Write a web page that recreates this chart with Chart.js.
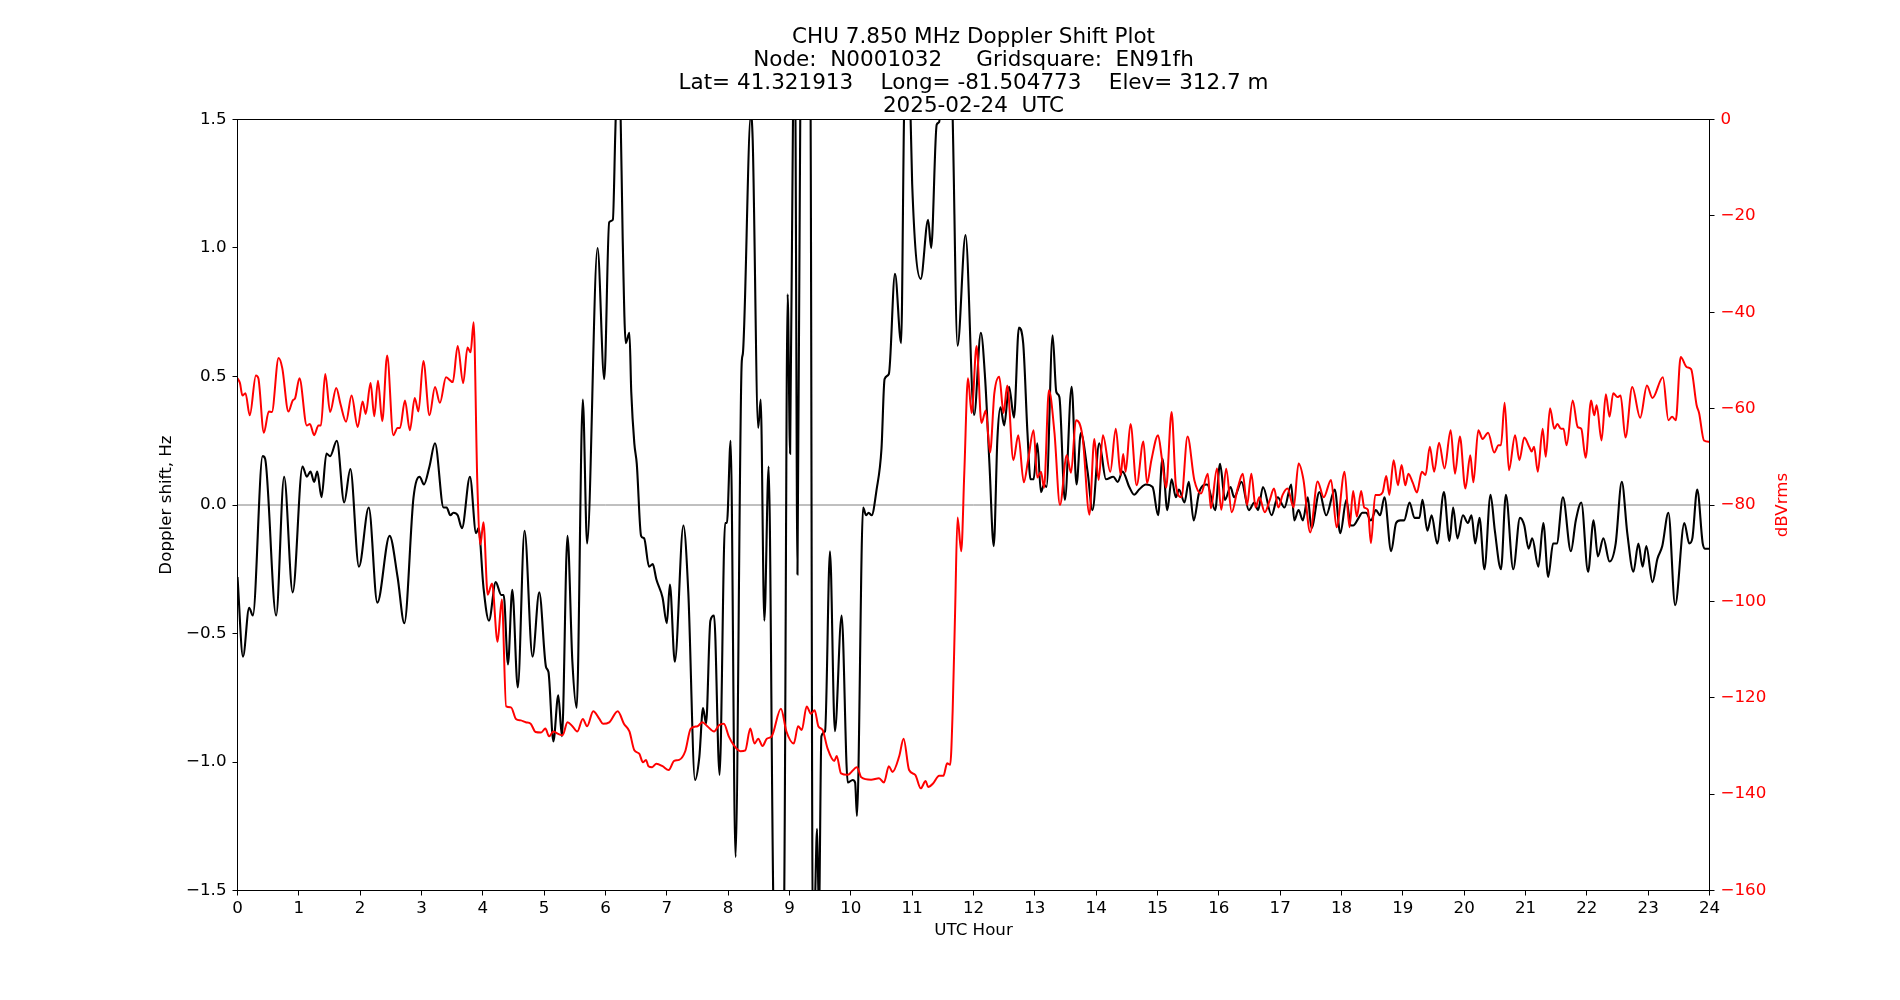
<!DOCTYPE html>
<html>
<head>
<meta charset="utf-8">
<script src="https://cdn.jsdelivr.net/npm/chart.js@4.4.1/dist/chart.umd.min.js"></script>
<style>html,body{margin:0;padding:0;background:#fff;}canvas{display:block;}</style>
</head>
<body>
<canvas id="c" width="1900" height="1000"></canvas>
<script>
const titleLines = [
  'CHU 7.850 MHz Doppler Shift Plot',
  'Node:  N0001032     Gridsquare:  EN91fh',
  'Lat= 41.321913    Long= -81.504773    Elev= 312.7 m',
  '2025-02-24  UTC'
];
const xLabel = 'UTC Hour';
const yLabelLeft = 'Doppler shift, Hz';
const yLabelRight = 'dBVrms';

const dopplerHours = [0.00,0.09,0.19,0.25,0.41,0.45,0.63,0.76,0.90,1.06,1.13,1.19,1.25,1.30,1.37,1.45,1.51,1.62,1.74,1.84,1.98,2.14,2.28,2.48,2.61,2.72,2.87,2.97,3.04,3.13,3.22,3.36,3.41,3.47,3.52,3.59,3.66,3.79,3.89,3.93,4.01,4.10,4.21,4.30,4.34,4.41,4.48,4.57,4.68,4.81,4.92,5.03,5.07,5.15,5.23,5.29,5.38,5.46,5.53,5.63,5.70,5.87,5.98,6.06,6.12,6.16,6.20,6.24,6.28,6.33,6.39,6.42,6.47,6.51,6.58,6.63,6.71,6.77,6.83,6.93,7.00,7.05,7.13,7.27,7.35,7.46,7.53,7.59,7.64,7.71,7.77,7.86,7.95,7.98,8.04,8.12,8.22,8.24,8.37,8.40,8.49,8.53,8.59,8.66,8.74,8.82,8.91,8.97,9.01,9.06,9.09,9.13,9.18,9.26,9.34,9.38,9.41,9.45,9.48,9.52,9.58,9.66,9.74,9.85,9.95,10.03,10.07,10.10,10.20,10.25,10.29,10.34,10.42,10.50,10.55,10.62,10.72,10.82,10.87,10.92,10.97,11.00,11.14,11.26,11.31,11.40,11.44,11.50,11.58,11.65,11.74,11.87,12.01,12.12,12.19,12.26,12.33,12.39,12.44,12.50,12.58,12.66,12.74,12.81,12.88,12.93,12.98,13.04,13.10,13.15,13.19,13.29,13.35,13.40,13.49,13.60,13.68,13.75,13.86,13.94,14.05,14.16,14.28,14.35,14.43,14.54,14.62,14.70,14.81,14.92,15.01,15.08,15.16,15.23,15.30,15.35,15.44,15.51,15.59,15.68,15.81,15.94,16.02,16.10,16.19,16.25,16.37,16.49,16.58,16.64,16.72,16.86,16.96,17.07,17.18,17.23,17.30,17.37,17.45,17.51,17.64,17.75,17.89,17.98,18.08,18.15,18.19,18.28,18.34,18.40,18.48,18.56,18.63,18.70,18.81,18.89,18.96,19.02,19.11,19.19,19.27,19.32,19.40,19.47,19.56,19.67,19.76,19.82,19.89,19.98,20.06,20.12,20.18,20.25,20.33,20.43,20.50,20.60,20.68,20.80,20.91,20.98,21.05,21.11,21.21,21.29,21.37,21.45,21.51,21.61,21.74,21.82,21.91,22.02,22.11,22.18,22.27,22.37,22.47,22.57,22.66,22.76,22.84,22.91,22.97,23.07,23.15,23.23,23.33,23.44,23.59,23.67,23.72,23.80,23.89,23.93,24.00];
const dopplerHz = [-0.28,-0.59,-0.40,-0.43,0.19,0.18,-0.43,0.11,-0.34,0.15,0.11,0.13,0.09,0.13,0.03,0.20,0.19,0.25,0.01,0.14,-0.24,-0.01,-0.38,-0.12,-0.28,-0.46,0.03,0.11,0.08,0.15,0.24,-0.01,-0.01,-0.04,-0.03,-0.04,-0.09,0.11,-0.11,-0.09,-0.32,-0.45,-0.30,-0.35,-0.35,-0.62,-0.33,-0.71,-0.10,-0.59,-0.34,-0.63,-0.65,-0.92,-0.74,-0.90,-0.12,-0.61,-0.79,0.41,-0.15,1.00,0.49,1.10,1.11,1.45,1.75,1.60,1.04,0.63,0.67,0.44,0.24,0.16,-0.12,-0.13,-0.24,-0.23,-0.29,-0.36,-0.46,-0.31,-0.61,-0.08,-0.34,-1.07,-0.98,-0.79,-0.85,-0.45,-0.43,-1.05,-0.07,-0.07,0.25,-1.37,0.55,0.59,1.52,1.42,0.30,0.41,-0.45,0.15,-1.60,-1.90,-1.60,0.82,0.20,1.60,1.70,-0.27,1.70,2.00,1.70,-1.70,-1.60,-1.26,-1.60,-0.90,-0.88,-0.18,-0.88,-0.43,-1.08,-1.07,-1.08,-1.21,-0.01,-0.04,-0.03,-0.04,0.06,0.22,0.49,0.51,0.90,0.63,1.55,1.75,1.55,1.25,0.88,1.11,1.00,1.48,1.49,1.70,1.75,1.60,0.62,1.05,0.35,0.67,0.49,0.16,-0.16,0.26,0.38,0.31,0.46,0.34,0.69,0.63,0.28,0.10,0.10,0.24,0.05,0.08,0.07,0.66,0.44,0.42,0.02,0.46,0.08,0.28,0.13,-0.02,0.24,0.10,0.11,0.09,0.13,0.07,0.04,0.06,0.08,0.07,-0.04,0.18,-0.02,0.10,0.03,0.06,0.01,0.09,-0.06,0.05,0.08,-0.02,0.16,0.02,0.07,0.03,0.09,-0.02,0.01,-0.02,0.07,-0.04,0.03,-0.01,0.08,-0.06,-0.02,-0.06,0.03,-0.09,0.05,-0.04,0.06,-0.11,0.02,-0.08,-0.08,-0.05,-0.03,-0.03,-0.06,-0.02,-0.04,0.03,-0.18,-0.07,-0.06,-0.06,0.01,-0.05,-0.05,0.02,-0.10,-0.04,-0.15,0.05,-0.14,-0.01,-0.13,-0.04,-0.07,-0.04,-0.15,-0.05,-0.25,0.04,-0.10,-0.25,0.04,-0.25,-0.05,-0.08,-0.17,-0.13,-0.24,-0.07,-0.28,-0.15,-0.15,0.03,-0.18,-0.06,0.01,-0.26,-0.06,-0.20,-0.13,-0.22,-0.15,0.09,-0.11,-0.26,-0.15,-0.24,-0.16,-0.30,-0.21,-0.16,-0.03,-0.39,-0.07,-0.15,-0.13,0.06,-0.15,-0.17,-0.17];

const signalHours = [0.00,0.04,0.08,0.13,0.20,0.30,0.34,0.43,0.51,0.56,0.67,0.73,0.83,0.90,0.94,1.01,1.13,1.18,1.25,1.32,1.36,1.43,1.51,1.61,1.68,1.77,1.86,1.96,2.04,2.09,2.17,2.23,2.29,2.36,2.44,2.54,2.61,2.65,2.73,2.81,2.89,2.95,3.03,3.13,3.22,3.30,3.40,3.51,3.59,3.68,3.75,3.80,3.85,3.91,3.96,4.01,4.08,4.15,4.24,4.31,4.38,4.46,4.54,4.62,4.70,4.78,4.86,4.95,5.02,5.08,5.15,5.23,5.30,5.38,5.46,5.54,5.63,5.70,5.80,5.90,5.96,6.06,6.20,6.30,6.39,6.47,6.55,6.61,6.66,6.70,6.76,6.83,6.93,7.03,7.12,7.20,7.30,7.39,7.50,7.58,7.66,7.77,7.85,7.93,8.01,8.10,8.20,8.28,8.36,8.43,8.49,8.56,8.63,8.71,8.86,8.95,9.07,9.14,9.20,9.28,9.35,9.41,9.47,9.54,9.62,9.73,9.77,9.84,9.95,10.10,10.17,10.33,10.46,10.54,10.62,10.68,10.79,10.86,10.95,11.05,11.14,11.22,11.26,11.34,11.44,11.51,11.57,11.62,11.66,11.70,11.74,11.80,11.85,11.91,11.97,12.05,12.13,12.20,12.27,12.34,12.42,12.49,12.55,12.65,12.73,12.82,12.89,12.98,13.04,13.10,13.15,13.23,13.32,13.41,13.52,13.59,13.67,13.78,13.89,13.97,14.04,14.11,14.23,14.32,14.40,14.44,14.48,14.56,14.66,14.77,14.83,14.90,15.01,15.07,15.14,15.23,15.30,15.39,15.49,15.60,15.71,15.82,15.87,15.97,16.04,16.12,16.21,16.31,16.39,16.46,16.53,16.60,16.66,16.75,16.83,16.90,16.97,17.04,17.12,17.22,17.30,17.38,17.49,17.61,17.71,17.83,17.92,18.05,18.13,18.19,18.25,18.32,18.37,18.43,18.48,18.55,18.62,18.67,18.73,18.78,18.85,18.92,18.98,19.04,19.09,19.16,19.23,19.31,19.37,19.44,19.51,19.59,19.68,19.78,19.85,19.93,20.02,20.10,20.15,20.23,20.30,20.39,20.49,20.56,20.60,20.66,20.73,20.83,20.90,20.98,21.06,21.10,21.14,21.20,21.28,21.33,21.40,21.47,21.52,21.58,21.62,21.67,21.77,21.85,21.91,21.98,22.07,22.12,22.16,22.24,22.31,22.37,22.43,22.50,22.55,22.63,22.74,22.87,22.98,23.07,23.24,23.33,23.39,23.45,23.53,23.63,23.70,23.79,23.83,23.91,24.00];
const signalDb = [-53.7,-54.7,-57.3,-56.8,-61.4,-53.1,-53.7,-65.0,-60.6,-60.7,-49.5,-51.6,-60.6,-58.3,-57.8,-53.7,-63.5,-63.2,-65.5,-63.5,-63.5,-52.8,-60.7,-55.7,-59.1,-62.7,-57.3,-63.8,-58.5,-61.1,-54.7,-61.6,-54.2,-62.6,-49.0,-65.5,-64.0,-64.0,-58.3,-64.5,-57.8,-60.6,-50.1,-61.4,-55.5,-58.8,-53.5,-54.5,-47.0,-54.7,-47.3,-48.3,-42.1,-75.3,-88.2,-83.6,-98.6,-96.3,-108.4,-99.6,-121.8,-122.0,-124.4,-124.7,-125.1,-125.4,-127.1,-127.2,-126.4,-128.0,-127.0,-127.5,-127.8,-125.1,-125.9,-127.0,-124.4,-125.9,-122.8,-124.4,-125.4,-125.1,-122.8,-125.4,-127.0,-130.9,-131.6,-133.4,-132.9,-134.2,-134.4,-133.7,-134.2,-135.0,-133.1,-132.9,-131.1,-126.4,-125.9,-125.1,-125.9,-127.0,-125.7,-125.4,-128.0,-130.0,-131.1,-130.9,-126.4,-129.5,-128.5,-130.0,-128.5,-128.0,-122.3,-127.0,-129.5,-125.9,-126.7,-121.8,-123.3,-122.6,-125.9,-126.7,-130.5,-133.1,-132.1,-135.7,-136.0,-134.4,-136.5,-137.0,-136.7,-137.6,-134.2,-135.4,-132.1,-128.5,-135.0,-136.0,-138.8,-137.3,-138.5,-137.8,-136.2,-136.2,-133.6,-133.9,-122.8,-102.2,-82.6,-89.6,-73.3,-53.7,-60.9,-47.0,-63.0,-60.4,-69.1,-56.8,-53.4,-60.9,-55.2,-70.7,-65.5,-75.3,-70.7,-64.5,-74.3,-73.1,-76.4,-56.2,-65.0,-80.0,-69.7,-73.3,-62.4,-66.0,-82.0,-66.3,-74.8,-65.5,-73.1,-64.2,-73.8,-69.4,-73.1,-63.2,-75.9,-66.8,-75.5,-70.7,-65.5,-70.2,-76.4,-60.7,-75.9,-78.4,-65.8,-74.8,-77.6,-73.5,-80.7,-72.4,-81.0,-72.5,-81.5,-76.4,-73.5,-80.0,-73.5,-80.5,-78.4,-81.5,-79.0,-76.6,-80.5,-77.9,-76.6,-80.5,-71.4,-74.8,-85.7,-75.1,-78.4,-74.8,-84.6,-73.1,-84.6,-77.1,-82.4,-77.1,-80.5,-81.0,-87.9,-77.9,-77.9,-77.4,-74.0,-77.9,-70.7,-75.9,-71.7,-75.9,-73.5,-75.3,-77.4,-73.1,-73.8,-67.9,-73.1,-67.1,-72.4,-64.5,-73.5,-65.8,-76.6,-69.7,-75.3,-64.5,-66.3,-65.0,-69.1,-67.6,-67.6,-58.8,-72.8,-65.5,-70.7,-66.0,-67.9,-68.9,-67.9,-73.1,-64.2,-70.0,-59.9,-64.2,-63.2,-64.2,-64.2,-67.6,-58.3,-63.8,-64.2,-70.2,-58.3,-61.4,-59.3,-66.6,-57.0,-61.7,-56.8,-57.6,-57.3,-66.0,-55.5,-61.9,-55.2,-57.8,-53.5,-62.4,-61.7,-62.4,-49.3,-51.4,-51.8,-59.3,-60.9,-66.6,-66.9];

const zeroHours = [0, 24];
const zeroHz = [0, 0];

const FONT = 'DejaVu Sans';
const pairs = (xs, ys) => xs.map((x, i) => ({x: x, y: ys[i]}));
const fmtMinus = s => s.replace('-', '\u2212');

const framePlugin = {
  id: 'frame',
  afterDatasetsDraw(chart) {
    const a = chart.chartArea, ctx = chart.ctx;
    ctx.save();
    ctx.strokeStyle = '#000';
    ctx.lineWidth = 1;
    ctx.strokeRect(a.left, a.top, a.right - a.left, a.bottom - a.top);
    ctx.restore();
  }
};
const rightTitlePlugin = {
  id: 'rightTitle',
  afterDraw(chart) {
    const a = chart.chartArea, ctx = chart.ctx;
    ctx.save();
    ctx.translate(a.right + 73, (a.top + a.bottom) / 2);
    ctx.rotate(-Math.PI / 2);
    ctx.fillStyle = 'red';
    ctx.font = '16.7px "' + FONT + '"';
    ctx.textAlign = 'center';
    ctx.textBaseline = 'middle';
    ctx.fillText(yLabelRight, 0, 0);
    ctx.restore();
  }
};

new Chart(document.getElementById('c'), {
  type: 'line',
  data: {
    datasets: [
      {label: 'dBVrms', data: pairs(signalHours, signalDb), yAxisID: 'y2', borderColor: 'red', borderWidth: 2, pointRadius: 0, cubicInterpolationMode: 'monotone', order: 0},
      {label: 'Doppler', data: pairs(dopplerHours, dopplerHz), yAxisID: 'y', borderColor: '#000', borderWidth: 2.1, pointRadius: 0, cubicInterpolationMode: 'monotone', order: 1},
      {label: 'zero', data: pairs(zeroHours, zeroHz), yAxisID: 'y', borderColor: 'gray', borderWidth: 1, pointRadius: 0, order: 2}
    ]
  },
  options: {
    responsive: false,
    animation: false,
    devicePixelRatio: 1,
    events: [],
    layout: {padding: 0},
    plugins: {
      legend: {display: false},
      tooltip: {enabled: false},
      title: {
        display: true,
        fullSize: false,
        text: titleLines,
        color: '#000',
        font: {family: FONT, size: 21.5, weight: 'normal', lineHeight: '23px'},
        padding: {top: 26, bottom: 1.5}
      }
    },
    scales: {
      x: {
        type: 'linear', min: 0, max: 24,
        border: {display: false},
        grid: {display: true, drawOnChartArea: false, drawTicks: true, tickLength: 5, tickColor: '#000', tickWidth: 1},
        ticks: {stepSize: 1, autoSkip: false, maxRotation: 0, color: '#000', padding: 3, font: {family: FONT, size: 16.7}},
        title: {display: true, text: xLabel, color: '#000', font: {family: FONT, size: 16.7, lineHeight: 1.2}, padding: {top: 0, bottom: 59}},
        afterFit(s) { s.height = 109.5; }
      },
      y: {
        position: 'left', min: -1.5, max: 1.5,
        border: {display: false},
        grid: {display: true, drawOnChartArea: false, drawTicks: true, tickLength: 5, tickColor: '#000', tickWidth: 1},
        ticks: {stepSize: 0.5, color: '#000', padding: 6, font: {family: FONT, size: 16.7}, callback: v => fmtMinus(Number(v).toFixed(1))},
        title: {display: true, text: yLabelLeft, color: '#000', font: {family: FONT, size: 16.7, lineHeight: 1.2}, padding: {top: 157, bottom: 0}},
        afterFit(s) { s.width = 237.5; }
      },
      y2: {
        position: 'right', min: -160, max: 0,
        border: {display: false},
        grid: {display: true, drawOnChartArea: false, drawTicks: true, tickLength: 5, tickColor: '#000', tickWidth: 1},
        ticks: {stepSize: 20, color: 'red', padding: 6, font: {family: FONT, size: 16.7}, callback: v => fmtMinus(String(v))},
        afterFit(s) { s.width = 190.5; }
      }
    }
  },
  plugins: [framePlugin, rightTitlePlugin]
});
</script>
</body>
</html>
